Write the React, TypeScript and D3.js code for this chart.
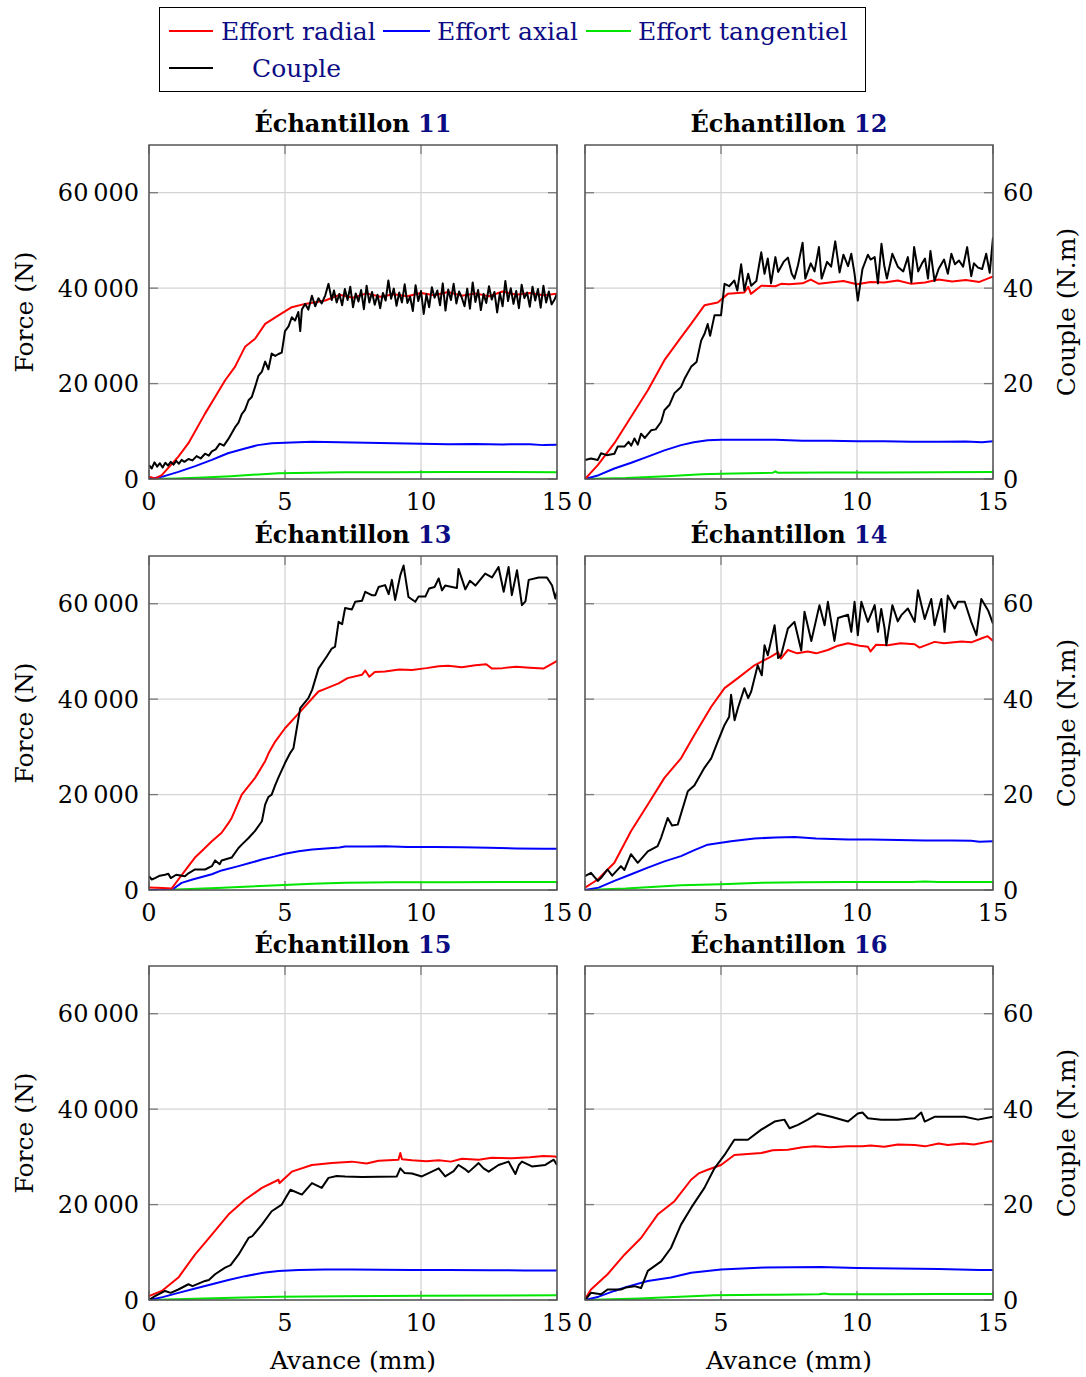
import React from 'react';
import * as d3 from 'd3';

type P = [number, number];

const xTicks = [0, 5, 10, 15];
const forceTicks = [0, 20000, 40000, 60000];
const coupleTicks = [0, 20, 40, 60];
const sampleIds = ['11', '12', '13', '14', '15', '16'];
const seriesNames = ['Effort radial', 'Effort axial', 'Effort tangentiel', 'Couple'];
const seriesColors = ['#ff0000', '#0000ff', '#00e600', '#000000'];

// ---- Échantillon 11 ----
const radial11: P[] = [[0,500],[0.22,100],[0.47,800],[1.08,4700],[1.45,7500],[2.06,13700],[2.43,17200],[2.8,20700],[3.16,23500],[3.53,27700],[3.9,29400],[4.27,32500],[4.76,34300],[5.25,36000],[5.74,36700],[6.48,37400],[7.0,38600],[7.5,38000],[8.0,38900],[8.5,38200],[9.0,38700],[9.5,38300],[10.0,39000],[10.5,38500],[11.0,39200],[11.5,38400],[12.0,38900],[12.5,38300],[13.0,39300],[13.5,38600],[14.0,39000],[14.5,38500],[15.0,38800]];
const axial11: P[] = [[0,0],[0.5,500],[1.08,1500],[1.7,2700],[2.31,4000],[2.9,5400],[3.53,6400],[4.0,7100],[4.51,7500],[5.0,7600],[5.99,7800],[7.0,7700],[8.0,7600],[9.0,7500],[10.0,7400],[11.0,7300],[12.0,7350],[13.0,7250],[14.0,7300],[14.5,7100],[15.0,7200]];
const tang11: P[] = [[0,0],[1,100],[2,300],[3,600],[3.53,800],[4.76,1200],[6,1300],[7.21,1400],[9,1400],[11,1450],[13,1450],[15,1400]];
const couple11: P[] = [[0,2.9],[0.1,2.2],[0.2,3.5],[0.3,2.6],[0.4,3.3],[0.5,2.4],[0.6,3.4],[0.7,2.8],[0.8,3.6],[0.9,3.0],[1.0,3.8],[1.1,3.2],[1.2,4.0],[1.3,3.6],[1.45,4.2],[1.6,3.9],[1.75,4.8],[1.9,4.3],[2.06,5.3],[2.2,4.9],[2.31,5.8],[2.45,6.2],[2.6,7.4],[2.75,7.0],[2.92,8.4],[3.04,9.6],[3.16,10.8],[3.29,11.8],[3.41,13.6],[3.53,14.5],[3.66,16.5],[3.78,17.2],[3.9,19.3],[4.02,21.6],[4.15,22.5],[4.27,24.6],[4.39,23.0],[4.51,26.3],[4.64,25.8],[4.76,26.2],[4.88,26.5],[5.0,31.0],[5.13,32.0],[5.25,33.9],[5.37,33.2],[5.49,35.0],[5.56,31.0],[5.62,35.5],[5.74,36.7],[5.86,35.5],[5.99,38.4],[6.11,36.2],[6.23,37.9],[6.35,36.8],[6.48,38.5],[6.6,40.9],[6.72,37.5],[6.8,39.5],[6.9,37.0],[7.0,38.8],[7.1,36.4],[7.2,39.8],[7.3,37.5],[7.4,40.3],[7.5,36.0],[7.6,38.9],[7.7,37.2],[7.8,39.6],[7.9,35.6],[8.0,40.5],[8.1,37.0],[8.2,39.2],[8.3,36.5],[8.4,38.6],[8.5,35.8],[8.6,39.0],[8.7,37.4],[8.8,41.6],[8.9,37.8],[9.0,39.9],[9.1,36.3],[9.2,39.1],[9.3,37.0],[9.4,40.8],[9.5,36.9],[9.6,38.2],[9.7,35.2],[9.8,40.6],[9.9,37.3],[10.0,39.4],[10.1,34.6],[10.2,38.7],[10.3,36.0],[10.4,40.2],[10.5,38.0],[10.6,39.5],[10.7,36.4],[10.8,41.0],[10.9,35.3],[11.0,39.7],[11.1,37.5],[11.2,40.9],[11.3,36.8],[11.4,39.3],[11.5,38.0],[11.6,36.2],[11.7,39.9],[11.8,35.7],[11.9,41.2],[12.0,37.1],[12.1,39.6],[12.2,35.4],[12.3,38.8],[12.4,36.9],[12.5,40.4],[12.6,37.6],[12.7,39.2],[12.8,34.9],[12.9,39.0],[13.0,36.2],[13.1,41.5],[13.2,37.3],[13.3,40.0],[13.4,36.7],[13.5,39.4],[13.6,35.8],[13.7,40.7],[13.8,37.9],[13.9,39.1],[14.0,36.1],[14.1,40.3],[14.2,37.4],[14.3,39.8],[14.4,35.9],[14.5,40.5],[14.6,37.0],[14.7,39.3],[14.8,36.6],[14.9,37.5],[15.0,38.8]];

// ---- Échantillon 12 ----
const radial12: P[] = [[0,0],[0.47,2900],[1.08,7500],[1.69,13000],[2.31,18600],[2.92,24900],[3.53,29700],[3.9,32500],[4.39,36400],[4.88,37000],[5.25,38800],[5.86,39100],[6.0,40300],[6.1,38800],[6.48,40500],[7.0,40400],[7.21,40900],[7.5,40800],[8.0,41000],[8.3,41800],[8.6,40900],[9.0,41200],[9.5,41500],[10.0,40800],[10.5,41300],[11.0,41200],[11.5,41600],[12.0,40900],[12.5,41200],[13.0,41800],[13.5,41400],[14.0,41700],[14.5,41300],[14.94,42300],[15.0,42400]];
const axial12: P[] = [[0,0],[0.5,800],[1.08,2200],[1.7,3400],[2.31,4700],[2.92,6000],[3.53,7100],[4.0,7700],[4.51,8100],[5.0,8200],[6.0,8200],[7.0,8200],[8.0,8000],[9.0,8000],[10.0,7900],[11.0,7900],[12.0,7800],[13.0,7800],[14.0,7850],[14.6,7700],[15.0,7900]];
const tang12: P[] = [[0,0],[1.5,200],[3,600],[4.3,1000],[5,1100],[6,1200],[6.9,1300],[7.0,1600],[7.1,1300],[9,1350],[11,1350],[13,1400],[15,1450]];
const couple12: P[] = [[0,4.0],[0.22,4.3],[0.47,4.0],[0.59,5.4],[0.8,5.0],[1.08,5.3],[1.2,6.8],[1.45,6.8],[1.6,7.8],[1.7,7.0],[1.82,8.5],[1.94,7.2],[2.06,9.5],[2.2,8.6],[2.43,10.2],[2.6,10.4],[2.8,12.0],[2.92,14.4],[3.1,15.5],[3.29,18.0],[3.53,19.3],[3.66,21.0],[3.9,23.5],[4.1,24.5],[4.27,29.0],[4.4,30.5],[4.51,32.5],[4.6,30.0],[4.76,34.3],[5.0,34.3],[5.13,40.9],[5.3,40.4],[5.49,41.6],[5.6,39.5],[5.74,45.0],[5.86,39.5],[6.0,43.0],[6.11,40.5],[6.3,41.5],[6.48,47.5],[6.6,43.0],[6.72,46.2],[6.84,41.0],[7.0,46.5],[7.1,43.4],[7.3,45.5],[7.46,46.4],[7.6,43.0],[7.7,42.0],[7.83,44.8],[8.0,49.5],[8.1,42.0],[8.3,45.2],[8.44,43.5],[8.6,48.6],[8.7,42.0],[8.9,45.5],[9.05,44.5],[9.2,49.8],[9.36,43.3],[9.5,47.0],[9.67,44.6],[9.79,47.2],[9.91,43.0],[10.03,37.4],[10.2,44.0],[10.4,47.0],[10.5,46.0],[10.65,46.5],[10.77,41.0],[10.9,49.3],[11.0,44.8],[11.1,42.0],[11.3,47.2],[11.5,44.5],[11.7,43.5],[11.87,46.5],[12.0,41.2],[12.1,48.6],[12.25,43.5],[12.4,45.3],[12.5,46.2],[12.61,42.0],[12.7,47.8],[12.85,41.5],[13.0,44.0],[13.2,46.0],[13.34,43.0],[13.47,47.2],[13.6,45.0],[13.75,45.8],[13.9,44.5],[14.05,48.6],[14.2,42.5],[14.3,45.2],[14.45,44.3],[14.6,44.0],[14.75,47.2],[14.88,43.2],[15.0,50.6]];

// ---- Échantillon 13 ----
const radial13: P[] = [[0,500],[0.5,400],[0.83,300],[1.08,2200],[1.45,5000],[1.69,6800],[2.0,8500],[2.31,10200],[2.67,12000],[2.92,14000],[3.04,15100],[3.41,20000],[3.9,23500],[4.27,27000],[4.4,28700],[4.64,31100],[5.0,33900],[5.56,37400],[6.23,41600],[6.5,42200],[6.97,43300],[7.3,44400],[7.83,45100],[7.95,46000],[8.1,44700],[8.3,45700],[8.68,45800],[9.2,46200],[9.67,46100],[10.2,46500],[10.65,46900],[11.0,47000],[11.5,46700],[12.0,47100],[12.4,47300],[12.61,46400],[13.0,46500],[13.5,46800],[14.0,46600],[14.5,46400],[14.94,47800],[15.0,48000]];
const axial13: P[] = [[0,0],[0.83,0],[1.2,1500],[1.6,2200],[2.31,3300],[2.67,4100],[3.29,5000],[3.8,5800],[4.15,6400],[4.6,7000],[5.0,7600],[5.5,8100],[6.0,8500],[7.0,8900],[7.21,9100],[8.0,9100],[8.68,9150],[9.5,9000],[10.5,9000],[11.5,8950],[12.5,8850],[13.5,8700],[14.5,8650],[15.0,8650]];
const tang13: P[] = [[0,0],[1.0,100],[2.5,400],[4.76,1000],[6,1300],[7.21,1500],[9,1600],[11,1650],[13,1700],[15,1700]];
const couple13: P[] = [[0,2.9],[0.1,2.2],[0.22,2.5],[0.4,3.0],[0.59,3.2],[0.71,3.4],[0.8,2.5],[1.0,3.2],[1.32,2.9],[1.45,3.5],[1.69,4.3],[2.06,4.3],[2.31,5.0],[2.43,6.2],[2.6,5.4],[2.67,6.2],[3.04,6.8],[3.29,8.8],[3.41,9.5],[3.66,10.9],[3.9,12.4],[4.15,14.4],[4.27,17.9],[4.39,19.5],[4.51,20.0],[4.64,22.0],[4.76,23.6],[5.0,26.6],[5.2,28.8],[5.31,29.7],[5.49,35.8],[5.56,38.1],[5.86,40.2],[6.0,42.0],[6.23,46.4],[6.54,49.0],[6.72,50.6],[6.84,51.0],[6.97,56.2],[7.1,55.7],[7.21,59.1],[7.46,58.8],[7.58,60.4],[7.83,60.6],[7.95,62.5],[8.19,61.8],[8.32,61.8],[8.44,63.5],[8.68,63.9],[8.81,62.0],[8.93,65.0],[9.05,60.8],[9.24,66.0],[9.36,68.0],[9.54,61.4],[9.79,60.4],[9.91,61.5],[10.16,61.5],[10.3,63.2],[10.5,63.5],[10.65,65.3],[10.77,62.8],[10.89,63.8],[11.14,63.5],[11.32,63.3],[11.38,67.3],[11.63,63.0],[11.8,64.8],[12.0,63.8],[12.36,66.3],[12.61,65.5],[12.85,67.7],[13.04,62.5],[13.22,67.7],[13.34,61.8],[13.53,67.0],[13.71,59.7],[13.84,60.5],[13.96,65.0],[14.33,65.5],[14.63,65.5],[14.82,63.8],[14.94,61.1],[15.0,62.5]];

// ---- Échantillon 14 ----
const radial14: P[] = [[0,500],[0.47,2200],[1.08,5700],[1.69,12300],[2.31,17900],[2.92,23500],[3.53,27600],[4.02,32500],[4.64,38400],[5.13,42300],[5.62,44400],[6.23,47100],[6.84,48900],[7.1,49800],[7.2,48500],[7.46,50300],[7.8,49600],[8.19,50000],[8.5,49600],[8.93,50300],[9.3,51200],[9.67,51700],[10.1,51200],[10.4,51000],[10.5,50000],[10.7,51400],[11.14,51300],[11.6,51700],[12.12,51500],[12.3,50800],[12.85,52000],[13.2,51700],[13.84,52100],[14.2,51900],[14.57,52700],[14.8,53200],[15.0,52200]];
const axial14: P[] = [[0,0],[0.5,500],[1.08,1900],[1.7,3300],[2.31,4700],[2.92,6000],[3.53,7100],[4.0,8300],[4.51,9500],[5.37,10200],[6.23,10800],[7.0,11000],[7.7,11100],[8.5,10800],[9.67,10600],[10.5,10600],[11.5,10500],[12.5,10400],[13.5,10400],[14.2,10300],[14.5,10100],[15.0,10200]];
const tang14: P[] = [[0,0],[1.5,300],[3.53,1000],[5,1200],[6.5,1500],[8,1600],[9.67,1700],[12,1700],[12.5,1800],[13,1700],[15,1700]];
const couple14: P[] = [[0,2.9],[0.22,3.6],[0.47,1.9],[0.6,2.6],[0.83,4.3],[1.0,3.0],[1.32,5.0],[1.45,4.2],[1.69,7.5],[1.94,5.7],[2.31,8.1],[2.67,9.2],[2.8,11.0],[3.04,15.1],[3.2,13.5],[3.41,13.7],[3.78,20.7],[4.02,21.9],[4.39,25.6],[4.64,27.6],[4.88,31.1],[5.13,34.6],[5.3,36.3],[5.37,40.9],[5.5,35.6],[5.62,38.1],[5.86,42.3],[6.0,40.2],[6.11,41.6],[6.35,47.1],[6.5,45.0],[6.6,51.3],[6.72,49.2],[6.97,55.5],[7.1,48.6],[7.21,49.2],[7.46,54.8],[7.7,56.2],[7.95,50.2],[8.07,58.3],[8.32,52.2],[8.62,59.7],[8.81,55.5],[8.93,60.4],[9.17,52.2],[9.3,57.0],[9.67,57.7],[9.79,54.1],[9.91,60.4],[10.03,53.4],[10.16,60.4],[10.4,56.2],[10.65,59.7],[10.77,54.1],[10.89,58.9],[11.01,55.0],[11.08,51.3],[11.3,59.7],[11.5,56.3],[11.63,57.6],[11.87,59.0],[12.12,56.2],[12.24,62.8],[12.49,56.8],[12.73,61.0],[12.85,55.5],[13.1,61.0],[13.22,54.1],[13.34,61.7],[13.59,59.0],[13.71,60.4],[13.96,60.4],[14.2,56.2],[14.39,53.4],[14.57,61.0],[14.82,58.6],[15.0,55.8]];

// ---- Échantillon 15 ----
const radial15: P[] = [[0,800],[0.47,1900],[1.08,4700],[1.69,9500],[2.31,13700],[2.92,17900],[3.53,21000],[4.15,23500],[4.76,25200],[4.8,24500],[5.25,26900],[5.99,28300],[6.72,28700],[7.46,29000],[8.0,28600],[8.44,29200],[9.17,29400],[9.24,30800],[9.3,29500],[9.67,29300],[10.2,29100],[10.65,29300],[11.1,29000],[11.5,29600],[12.12,29400],[12.6,29800],[13.34,29700],[14.0,29900],[14.5,30200],[14.94,30100],[15.0,29800]];
const axial15: P[] = [[0,0],[0.5,600],[1.08,1500],[1.7,2400],[2.31,3300],[2.92,4200],[3.53,5000],[4.2,5700],[4.76,6100],[5.5,6300],[6.48,6400],[7.5,6400],[8.5,6350],[9.67,6300],[11,6300],[12.5,6250],[13.8,6200],[15.0,6200]];
const tang15: P[] = [[0,0],[2,300],[3.5,550],[4.76,700],[7,800],[10,900],[13,950],[15,1000]];
const couple15: P[] = [[0,0],[0.22,0.8],[0.59,1.9],[0.8,1.5],[1.08,2.2],[1.45,3.3],[1.6,2.9],[2.06,4.0],[2.2,4.2],[2.43,5.4],[2.8,6.8],[3.0,7.3],[3.29,9.5],[3.66,13.0],[3.8,13.4],[4.15,15.8],[4.51,18.6],[4.88,20.0],[5.2,23.1],[5.62,22.1],[5.99,24.5],[6.35,23.5],[6.6,25.6],[6.9,26.0],[7.21,25.9],[7.83,25.8],[9.11,25.9],[9.24,27.6],[9.4,26.6],[9.67,26.5],[10.03,25.9],[10.4,26.9],[10.65,27.6],[10.89,25.9],[11.2,27.0],[11.38,28.3],[11.6,27.5],[11.75,26.8],[12.12,28.7],[12.3,27.6],[12.49,26.9],[12.85,28.3],[13.22,29.0],[13.47,26.4],[13.6,28.3],[13.71,29.0],[14.08,28.0],[14.57,28.3],[14.88,29.4],[15.0,28.3]];

// ---- Échantillon 16 ----
const radial16: P[] = [[0,200],[0.22,2200],[0.83,5400],[1.45,9500],[2.06,13000],[2.67,17900],[3.29,20700],[3.9,25200],[4.2,26600],[4.51,27300],[5.0,28300],[5.49,30400],[6.48,30800],[6.9,31400],[7.46,31500],[8.0,32000],[8.44,32200],[9.0,32000],[9.67,32200],[10.2,32200],[10.5,32400],[11.0,32100],[11.5,32600],[12.12,32500],[12.5,32200],[13.0,32800],[13.34,32500],[13.9,32800],[14.3,32600],[14.94,33300],[15.0,33100]];
const axial16: P[] = [[0,0],[0.5,700],[1.08,1900],[1.5,2700],[2.31,4000],[3.16,4700],[3.9,5700],[5.0,6400],[6.6,6800],[8.68,6900],[10.0,6700],[11.5,6600],[13.0,6500],[14.5,6300],[15.0,6300]];
const tang16: P[] = [[0,0],[2,300],[4.76,1000],[7,1100],[8.6,1200],[8.8,1350],[9.0,1200],[11,1200],[13,1250],[15,1250]];
const couple16: P[] = [[0,0],[0.22,1.5],[0.59,1.2],[0.83,2.2],[1.32,2.2],[1.5,2.6],[1.82,2.9],[2.06,2.5],[2.31,6.1],[2.8,8.1],[3.16,10.9],[3.53,15.8],[3.9,19.3],[4.39,23.5],[4.76,27.6],[5.13,30.4],[5.49,33.6],[5.99,33.6],[6.48,35.7],[6.97,37.4],[7.33,37.8],[7.52,36.0],[7.83,36.7],[8.19,37.8],[8.56,39.1],[9.05,38.4],[9.67,37.4],[10.03,39.1],[10.2,39.3],[10.4,38.1],[10.89,37.8],[11.5,37.8],[12.12,38.1],[12.36,39.3],[12.49,37.4],[12.85,38.4],[13.34,38.4],[13.96,38.4],[14.45,37.8],[15.0,38.4]];

const radials = [radial11, radial12, radial13, radial14, radial15, radial16];
const axials = [axial11, axial12, axial13, axial14, axial15, axial16];
const tangs = [tang11, tang12, tang13, tang14, tang15, tang16];
const couples = [couple11, couple12, couple13, couple14, couple15, couple16];

const W = 1086;
const H = 1377;
const colX = [149, 585];
const plotW = 408;
const rowTop = [145, 556, 966];
const plotH = 334;

const FONT = '"DejaVu Serif", serif';
const NAVY = '#0c0c84';
const fmtForce = (v: number) => (v >= 10000 ? d3.format('d')(Math.floor(v / 1000)) + '\u2009' + '000' : String(v));

function Panel({ idx }: { idx: number }) {
  const col = idx % 2;
  const row = Math.floor(idx / 2);
  const left = colX[col];
  const top = rowTop[row];
  const x = d3.scaleLinear().domain([0, 15]).range([left, left + plotW]);
  const yF = d3.scaleLinear().domain([0, 70000]).range([top + plotH, top]);
  const yC = d3.scaleLinear().domain([0, 70]).range([top + plotH, top]);
  const lineF = d3.line<P>().x((d) => x(d[0])).y((d) => yF(d[1]));
  const lineC = d3.line<P>().x((d) => x(d[0])).y((d) => yC(d[1]));
  const clipId = `clip${idx}`;
  const bottom = top + plotH;
  const right = left + plotW;
  const tickLen = 9;
  const tickColor = '#7a7a7a';
  return (
    <g>
      <defs>
        <clipPath id={clipId}>
          <rect x={left} y={top} width={plotW} height={plotH} />
        </clipPath>
      </defs>
      {xTicks.map((t) => (
        <line key={'gx' + t} x1={x(t)} x2={x(t)} y1={top} y2={bottom} stroke="#d4d4d4" strokeWidth={1.3} />
      ))}
      {forceTicks.map((t) => (
        <line key={'gy' + t} x1={left} x2={right} y1={yF(t)} y2={yF(t)} stroke="#d4d4d4" strokeWidth={1.3} />
      ))}
      {xTicks.map((t) => (
        <g key={'tx' + t}>
          <line x1={x(t)} x2={x(t)} y1={top} y2={top + tickLen} stroke={tickColor} strokeWidth={1.3} />
          <line x1={x(t)} x2={x(t)} y1={bottom} y2={bottom - tickLen} stroke={tickColor} strokeWidth={1.3} />
        </g>
      ))}
      {forceTicks.map((t) => (
        <g key={'ty' + t}>
          <line x1={left} x2={left + tickLen} y1={yF(t)} y2={yF(t)} stroke={tickColor} strokeWidth={1.3} />
          <line x1={right} x2={right - tickLen} y1={yF(t)} y2={yF(t)} stroke={tickColor} strokeWidth={1.3} />
        </g>
      ))}
      <g clipPath={`url(#${clipId})`} fill="none" strokeWidth={2} strokeLinejoin="round">
        <path d={lineF(tangs[idx]) || ''} stroke={seriesColors[2]} />
        <path d={lineF(axials[idx]) || ''} stroke={seriesColors[1]} />
        <path d={lineF(radials[idx]) || ''} stroke={seriesColors[0]} />
        <path d={lineC(couples[idx]) || ''} stroke={seriesColors[3]} />
      </g>
      <rect x={left} y={top} width={plotW} height={plotH} fill="none" stroke="#555" strokeWidth={1.5} />
      {xTicks.map((t) => (
        <text key={'xl' + t} x={x(t)} y={bottom + 31} textAnchor="middle" fontFamily={FONT} fontSize={24} fill="#000">
          {t}
        </text>
      ))}
      {col === 0
        ? forceTicks.map((t) => (
            <text key={'yl' + t} x={left - 10} y={yF(t) + 8.5} textAnchor="end" fontFamily={FONT} fontSize={24} fill="#000">
              {fmtForce(t)}
            </text>
          ))
        : coupleTicks.map((t) => (
            <text key={'yr' + t} x={right + 10} y={yC(t) + 8.5} textAnchor="start" fontFamily={FONT} fontSize={24} fill="#000">
              {t}
            </text>
          ))}
      {col === 0 ? (
        <text transform={`translate(${33},${(top + bottom) / 2}) rotate(-90)`} textAnchor="middle" fontFamily={FONT} fontSize={25} fill="#000">
          Force (N)
        </text>
      ) : (
        <text transform={`translate(${1075},${(top + bottom) / 2}) rotate(-90)`} textAnchor="middle" fontFamily={FONT} fontSize={25} fill="#000">
          Couple (N.m)
        </text>
      )}
      <text x={(left + right) / 2} y={top - 13} textAnchor="middle" fontFamily={FONT} fontSize={24} fontWeight="bold" fill="#000">
        Échantillon <tspan fill={NAVY}>{sampleIds[idx]}</tspan>
      </text>
      {row === 2 && (
        <text x={(left + right) / 2} y={1369} textAnchor="middle" fontFamily={FONT} fontSize={25} fill="#000">
          Avance (mm)
        </text>
      )}
    </g>
  );
}

function Legend() {
  const items = [
    { x1: 169, x2: 213, y: 31, tx: 221 },
    { x1: 383, x2: 430, y: 31, tx: 437 },
    { x1: 586, x2: 631, y: 31, tx: 638 },
    { x1: 169, x2: 213, y: 68, tx: 252 },
  ];
  return (
    <g>
      <rect x={159.5} y={7.5} width={706} height={84} fill="#fff" stroke="#000" strokeWidth={1} />
      {items.map((it, i) => (
        <g key={i}>
          <line x1={it.x1} x2={it.x2} y1={it.y} y2={it.y} stroke={seriesColors[i]} strokeWidth={2} />
          <text x={it.tx} y={it.y + 9} fontFamily={FONT} fontSize={25} fill={NAVY}>
            {seriesNames[i]}
          </text>
        </g>
      ))}
    </g>
  );
}

export default function App() {
  return (
    <div style={{ position: 'absolute', left: 0, top: 0 }}>
      <svg width={W} height={H} viewBox={`0 0 ${W} ${H}`} style={{ display: 'block', background: '#fff' }}>
        <rect x={0} y={0} width={W} height={H} fill="#fff" />
        <Legend />
        {sampleIds.map((_, i) => (
          <Panel key={i} idx={i} />
        ))}
      </svg>
    </div>
  );
}
